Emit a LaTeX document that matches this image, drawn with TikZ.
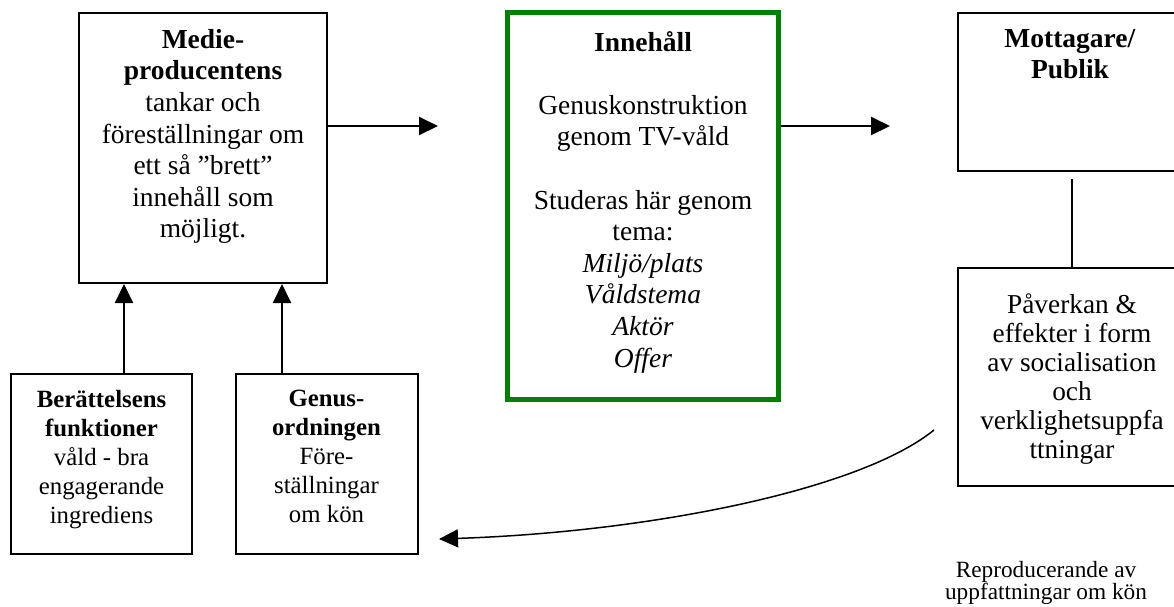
\documentclass[tikz,border=0pt]{standalone}
\usepackage{fontspec}
\setmainfont{Liberation Serif}
\usetikzlibrary{arrows.meta}
\definecolor{boxgreen}{RGB}{0,128,0}
\newcommand{\fsMain}{\fontsize{27.5}{31.6}\selectfont}
\newcommand{\fsD}{\fontsize{27.3}{29}\selectfont}
\newcommand{\fsSmall}{\fontsize{24.8}{29}\selectfont}
\newcommand{\fsCap}{\fontsize{23.3}{22}\selectfont}
\begin{document}
\begin{tikzpicture}[x=1pt,y=-1pt,
  box/.style={draw, line width=2pt, inner sep=0pt},
  gbox/.style={draw=boxgreen, line width=5pt, inner sep=0pt},
  txt/.style={anchor=north, inner sep=0pt, align=center, font=\fsMain},
  arr/.style={line width=2pt, -{Triangle[length=19pt,width=18pt]}},
  conn/.style={line width=2pt}]
\useasboundingbox (0,0) rectangle (1174,606);
\clip (0,0) rectangle (1174,606);

% boxes
\node[box, minimum width=248pt, minimum height=270pt] (A) at (203,148) {};
\node[gbox, minimum width=270.5pt, minimum height=386.5pt] (B) at (642.75,205.75) {};
\node[box, minimum width=228pt, minimum height=158pt] (C) at (1072,92) {};
\node[box, minimum width=228pt, minimum height=218pt] (D) at (1072,377) {};
\node[box, minimum width=180.5pt, minimum height=180.5pt] (E) at (101.25,463.75) {};
\node[box, minimum width=181.5pt, minimum height=180.5pt] (F) at (326.75,463.75) {};

% texts
\node[txt] (At) at (203,29) {\textbf{Medie-}\\\textbf{producentens}\\tankar och\\föreställningar om\\ett så ”brett”\\innehåll som\\möjligt.};
\node[txt] (Bt) at (643,31) {\textbf{Innehåll}\\[31.6pt]Genuskonstruktion\\genom TV-våld\\[31.6pt]Studeras här genom\\tema:\\\textit{Miljö/plats}\\\textit{Våldstema}\\\textit{Aktör}\\\textit{Offer}};
\node[txt] (Ct) at (1070,29) {\textbf{Mottagare/}\\\textbf{Publik}};
\node[txt, font=\fsD] (Dt) at (1072,293.5) {Påverkan \&\\effekter i form\\av socialisation\\och\\verklighetsuppfa\\ttningar};
\node[txt, font=\fsSmall] (Et) at (101.5,390) {\textbf{Berättelsens}\\\textbf{funktioner}\\våld - bra\\engagerande\\ingrediens};
\node[txt, font=\fsSmall] (Ft) at (326.5,390) {\textbf{Genus-}\\\textbf{ordningen}\\Före-\\ställningar\\om kön};
\node[txt, font=\fsCap] (cap) at (1046,561) {Reproducerande av\\uppfattningar om kön};

% connectors
\coordinate (abEnd) at (438,126);
\coordinate (bcEnd) at (890,126);
\draw[arr] (A.east |- abEnd) -- (abEnd);
\draw[arr] (B.east |- bcEnd) -- (bcEnd);
\coordinate (xE) at (124,0);
\coordinate (xF) at (282,0);
\draw[arr] (E.north -| xE) -- (A.south -| xE);
\draw[arr] (F.north -| xF) -- (A.south -| xF);
\draw[conn] ([yshift=-7pt]C.south) -- (D.north);
\coordinate (cs) at (934,430);
\coordinate (ce) at (439,539);
\draw[arr, line width=1.5pt] (cs) .. controls (860,490) and (650,532) .. (ce);
\end{tikzpicture}
\end{document}
